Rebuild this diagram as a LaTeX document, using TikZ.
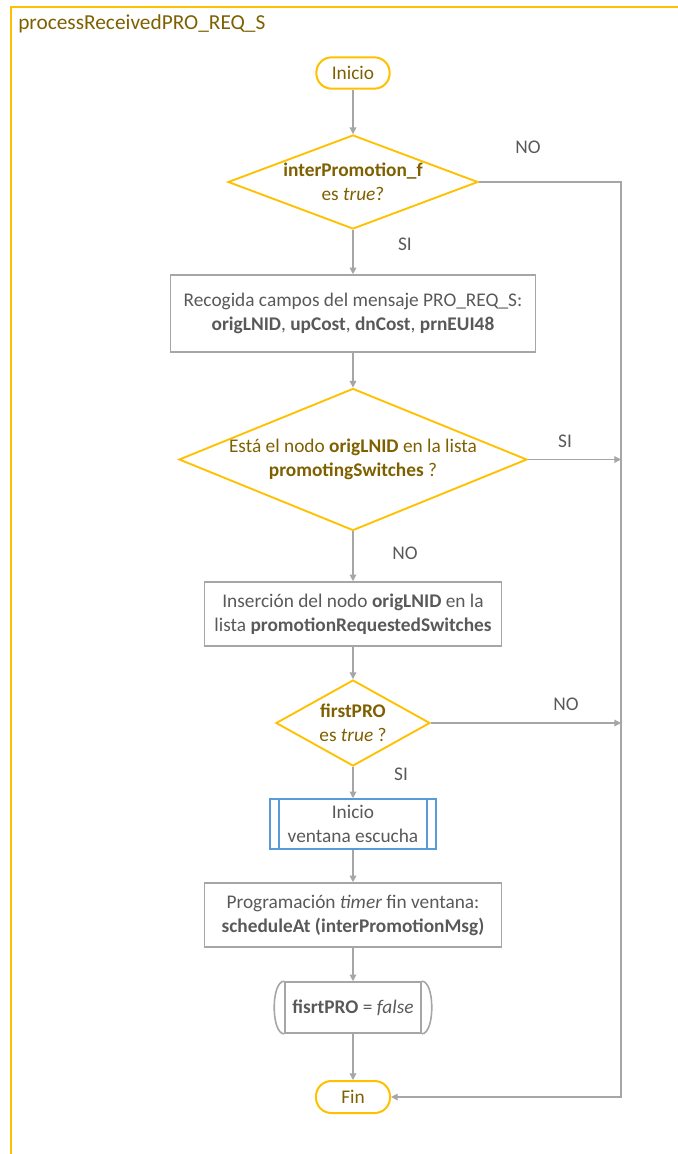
\documentclass[tikz,border=0pt]{standalone}
\usepackage{fontspec}
\setmainfont{Carlito}
\usetikzlibrary{positioning, arrows.meta, shapes.geometric}
\definecolor{amber}{HTML}{FFC000}
\definecolor{goldtext}{HTML}{7F6000}
\definecolor{linegray}{HTML}{A6A6A6}
\definecolor{textgray}{HTML}{595959}
\definecolor{procblue}{HTML}{5B9BD5}
\newcommand{\flowfont}{\fontsize{14.5}{18}\selectfont}
\newcommand{\flowarrow}{-{Triangle[length=5pt,width=5pt]}}
\tikzset{
  terminal/.style={draw=amber, line width=1.5pt, rounded corners=11.5pt, text=goldtext,
    minimum width=55pt, minimum height=23.5pt, inner sep=0pt},
  decision/.style={diamond, draw=amber, line width=1.4pt, text=goldtext, align=center, inner sep=0pt},
  process/.style={draw=linegray, line width=1.2pt, text=textgray, align=center, inner sep=0pt},
  subproc/.style={draw=procblue, line width=1.2pt, text=textgray, align=center, inner sep=0pt},
  answer/.style={text=textgray},
  flow/.style={draw=linegray, line width=0.9pt}
}

\begin{document}
\begin{tikzpicture}[x=0.75pt, y=-0.75pt, font=\flowfont]
            \useasboundingbox (0,0) rectangle (678,1154);
            \draw[amber, line width=2pt] (11,1154) -- (11,7) -- (678,7);
            \node[anchor=base west, text=goldtext, inner sep=0pt, font=\fontsize{16}{19}\selectfont] (title) at (18,29) {processReceivedPRO\_REQ\_S};
            \coordinate (rail) at (621,0);

            \node[terminal] (inicio) at (353,73) {Inicio};
            \node[decision, minimum width=187.5pt, minimum height=70.5pt, shape aspect=2.6] (cond1) at (353,182)
            {\textbf{interPromotion\_f}\\ es \textit{true}?};
            \node[process, minimum width=273.75pt, minimum height=57.75pt] (fields) at (353,313.5)
            {Recogida campos del mensaje PRO\_REQ\_S:\\ \textbf{origLNID}, \textbf{upCost}, \textbf{dnCost}, \textbf{prnEUI48}};
            \node[decision, minimum width=260.25pt, minimum height=104.25pt, shape aspect=2.45] (cond2) at (353,459.5)
            {Está el nodo \textbf{origLNID} en la lista\\ \textbf{promotingSwitches} ?};
            \node[process, minimum width=222.75pt, minimum height=48pt] (insert) at (353,614)
            {Inserción del nodo \textbf{origLNID} en la\\ lista \textbf{promotionRequestedSwitches}};
            \node[decision, minimum width=115.5pt, minimum height=64.5pt, shape aspect=1.79] (cond3) at (353,723)
            {\textbf{firstPRO}\\ es \textit{true} ?};
            \node[subproc, minimum width=124.5pt, minimum height=37.5pt] (window) at (353,824)
            {Inicio\\ ventana escucha};
            \draw[procblue, line width=1.2pt] ([xshift=7.5pt]window.north west) -- ([xshift=7.5pt]window.south west)
            ([xshift=-7.5pt]window.north east) -- ([xshift=-7.5pt]window.south east);
            \node[process, minimum width=222.75pt, minimum height=48pt] (timer) at (353,915)
            {Programación \textit{timer} fin ventana:\\ \textbf{scheduleAt (interPromotionMsg)}};
            \node[process, minimum width=102pt, minimum height=38.25pt] (flag) at (353,1007.5)
            {\textbf{fisrtPRO} = \textit{false}};
            \draw[linegray, line width=1.2pt] (flag.north west) .. controls ([xshift=-10pt]flag.north west) and ([xshift=-10pt]flag.south west) .. (flag.south west)
            (flag.north east) .. controls ([xshift=10pt]flag.north east) and ([xshift=10pt]flag.south east) .. (flag.south east);
            \node[terminal, minimum width=55.5pt, minimum height=24pt] (fin) at (353,1097) {Fin};

            \node[answer] (no1) at (528,147) {NO};
            \node[answer] (si1) at (405,244) {SI};
            \node[answer] (si2) at (565,441) {SI};
            \node[answer] (no2) at (405,553) {NO};
            \node[answer] (no3) at (566,704) {NO};
            \node[answer] (si3) at (401,774) {SI};

            \draw[flow, \flowarrow] (inicio) -- (cond1);
            \draw[flow, \flowarrow] (cond1) -- (fields);
            \draw[flow, \flowarrow] (fields) -- (cond2);
            \draw[flow, \flowarrow] (cond2) -- (insert);
            \draw[flow, \flowarrow] (insert) -- (cond3);
            \draw[flow, \flowarrow] (cond3) -- (window);
            \draw[flow, \flowarrow] (window) -- (timer);
            \draw[flow, \flowarrow] (timer) -- (flag);
            \draw[flow, \flowarrow] (flag) -- (fin);
            \draw[flow, \flowarrow] (cond1.east) -| (rail |- fin.east) -- (fin.east);
            \draw[flow, \flowarrow] (cond2.east) -- (cond2.east -| rail);
            \draw[flow, \flowarrow] (cond3.east) -- (cond3.east -| rail);
        \end{tikzpicture}
\end{document}
